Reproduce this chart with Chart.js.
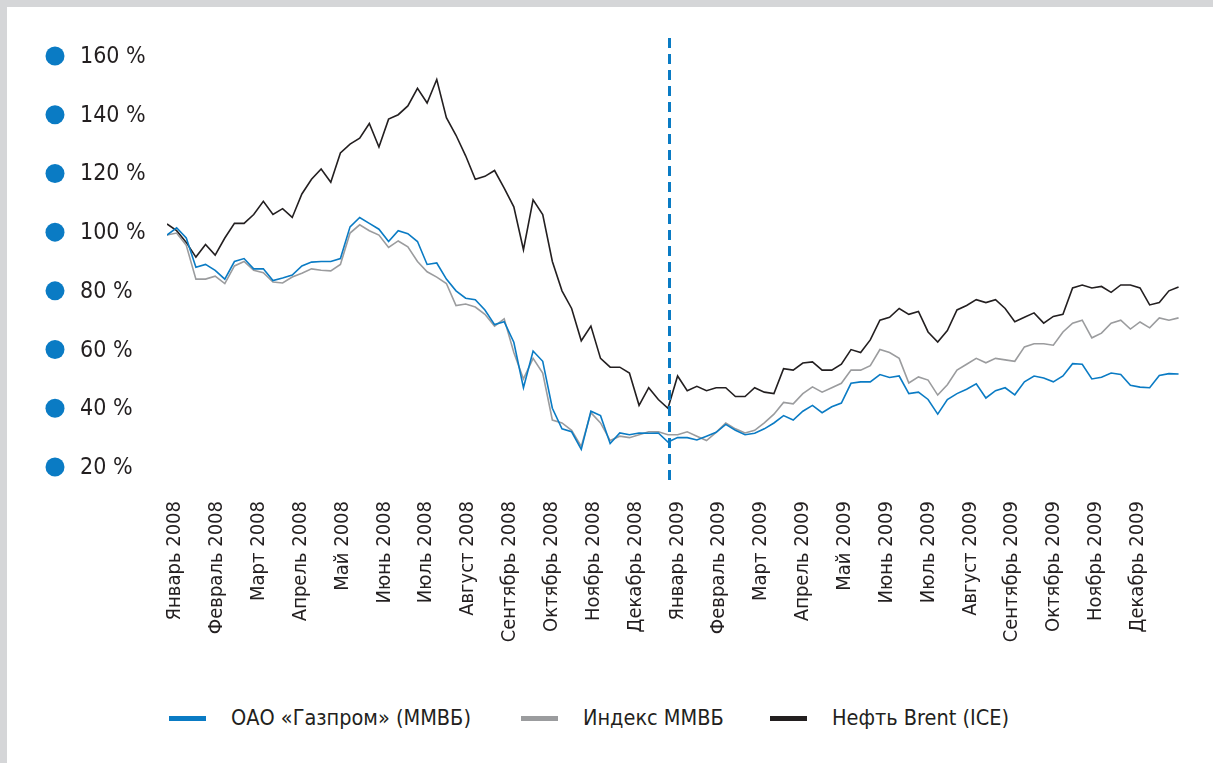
<!DOCTYPE html>
<html lang="ru">
<head>
<meta charset="utf-8">
<script src="https://cdn.jsdelivr.net/npm/chart.js@4.4.1/dist/chart.umd.min.js"></script>
<style>
    html, body { margin: 0; padding: 0; background: #d5d6d8; }
    body { width: 1213px; height: 763px; overflow: hidden; position: relative; }
    .panel { position: absolute; left: 7px; top: 7px; width: 1206px; height: 756px; background: #fff; }
    #chartBox { position: absolute; left: 0; top: 0; width: 1206px; height: 660px; }
    .legend { position: absolute; left: 0; top: 696px; width: 1206px; height: 30px;
        font-family: 'DejaVu Sans Condensed', 'Liberation Sans Narrow', sans-serif; font-size: 21.5px; color: #231f20; }
    .legend span.item { position: absolute; top: 0; line-height: 30px; white-space: nowrap; }
    .legend i { display: inline-block; width: 37px; height: 5px; vertical-align: middle; margin-right: 25px; position: relative; top: -1px; }
</style>
</head>
<body>
<div class="panel">
    <div id="chartBox"><canvas id="chart" width="1206" height="660"></canvas></div>
    <div class="legend" id="legend"></div>
</div>
<script>
//------data (weekly closes, % of 1 Jan 2008 level)
const months = ['Январь', 'Февраль', 'Март', 'Апрель', 'Май', 'Июнь', 'Июль', 'Август', 'Сентябрь', 'Октябрь', 'Ноябрь', 'Декабрь'];
const years = [2008, 2009];
const yTicks = [20, 40, 60, 80, 100, 120, 140, 160];
const splitMonth = 12; // январь 2009

const gazprom = [
    99, 101.5, 98, 88, 89, 87, 84, 90, 91, 87.5,
    87.5, 83.5, 84.4, 85.4, 88.5, 89.8, 90, 90, 91, 101.8,
    105, 103, 101, 96.8, 100.5, 99.5, 96.8, 89, 89.5, 84,
    80, 77.5, 77, 73.5, 68.5, 69.5, 62.5, 47, 59.5, 56,
    40, 33, 32, 26, 39, 37.5, 28, 31.6, 31, 31.6,
    31.5, 31.6, 28.5, 30, 30, 29.2, 30.5, 31.8, 34.5, 32.5,
    31, 31.5, 33, 35, 37.5, 36, 39, 41, 38.5, 40.5,
    41.8, 48.5, 49, 49, 51.5, 50.5, 51, 45, 45.5, 43,
    38, 43, 45, 46.5, 48.3, 43.5, 46, 47, 44.6, 49,
    51, 50.3, 49, 51, 55.2, 55, 50, 50.6, 52, 51.5,
    47.8, 47.2, 47, 51.2, 51.8, 51.7
];
const micex = [
    99, 99.7, 95.5, 84, 84, 85, 82.5, 88.5, 90, 87,
    86.2, 83, 82.7, 84.7, 86, 87.5, 87, 86.8, 89, 99.7,
    102.5, 100.5, 99, 94.8, 97, 95, 90, 86.5, 84.7, 82.5,
    75, 75.5, 74.5, 72, 68, 70.5, 59, 50, 57, 52,
    36, 35, 32.5, 27, 38.5, 35, 29, 30.5, 30, 31,
    32, 32, 31, 31, 32, 30.5, 29, 31.8, 35, 33,
    31.6, 32.5, 35, 38, 42, 41.5, 45, 47.3, 45.5, 47,
    48.5, 53, 53, 54.5, 60, 59, 57, 48.6, 50.7, 49.6,
    44.5, 48, 53, 55, 57, 55.5, 57, 56.5, 56, 60.9,
    62, 62, 61.5, 66, 69, 70, 64, 65.6, 69, 70,
    67, 69.4, 67.4, 70.8, 70, 70.8
];
const brent = [
    102.8, 100.5, 96.5, 91.5, 95.8, 92.2, 98, 103, 103, 106,
    110.5, 106, 108, 105, 113, 118, 121.5, 117, 127, 130,
    132, 137, 129, 138.5, 140, 143, 149, 144, 152, 139,
    133, 126, 118, 119, 121, 115, 108.6, 94, 111, 106,
    90, 80, 74, 63, 68, 57, 54, 54, 52, 41,
    47, 43, 40, 51, 46, 47.5, 46, 47, 47, 44,
    44, 47, 45.5, 45, 53.5, 53, 55.4, 55.8, 53, 53,
    55, 60, 59, 63.3, 70, 71, 74, 72, 73, 66,
    62.6, 66.5, 73.5, 75, 77, 76, 77, 74, 69.5, 71,
    72.5, 69, 71.3, 72, 81, 82, 81, 81.5, 79.5, 82,
    82, 81, 75.2, 76, 80, 81.3
];

const seriesNames = ['ОАО «Газпром» (ММВБ)', 'Индекс ММВБ', 'Нефть Brent (ICE)'];
const seriesColors = ['#0a7bc4', '#9b9c9e', '#231f20'];

const FONT = "'DejaVu Sans Condensed', 'Liberation Sans Narrow', sans-serif";
const WEEKS_PER_MONTH = 52.14 / 12;

// week number -> month position on the x axis
function toPoints(arr) {
    return arr.map((v, i) => ({ x: i / WEEKS_PER_MONTH, y: v }));
}

const datasets = [gazprom, micex, brent].map((arr, k) => ({
    label: seriesNames[k],
    data: toPoints(arr),
    borderColor: seriesColors[k],
    backgroundColor: seriesColors[k],
    borderWidth: 1.6,
    pointRadius: 0,
    tension: 0
}));

// y labels with round markers, plus the dashed year separator
const decor = {
    id: 'decor',
    afterDraw(chart) {
        const ctx = chart.ctx;
        const y = chart.scales.y;
        const x = chart.scales.x;
        ctx.save();
        ctx.font = '23px ' + FONT;
        ctx.textBaseline = 'middle';
        ctx.textAlign = 'left';
        yTicks.forEach(v => {
            const py = y.getPixelForValue(v);
            ctx.fillStyle = '#0a7bc4';
            ctx.beginPath();
            ctx.arc(48, py, 9.5, 0, Math.PI * 2);
            ctx.fill();
            ctx.fillStyle = '#231f20';
            ctx.fillText(v + ' %', 73, py + 1);
        });
        const px = Math.round(x.getPixelForValue(splitMonth)) + 0.5;
        ctx.strokeStyle = '#0a7bc4';
        ctx.lineWidth = 3;
        ctx.setLineDash([10, 6]);
        ctx.beginPath();
        ctx.moveTo(px, chart.chartArea.top - 18);
        ctx.lineTo(px, chart.chartArea.bottom + 14);
        ctx.stroke();
        ctx.restore();
    }
};

const config = {
    type: 'line',
    data: { datasets: datasets },
    options: {
        responsive: false,
        animation: false,
        layout: {
            padding: { top: 49, right: 33, bottom: 0, left: 160 }
        },
        plugins: {
            legend: { display: false },
            tooltip: { enabled: false }
        },
        scales: {
            x: {
                type: 'linear',
                min: 0,
                max: 24.2,
                grid: { display: false, drawTicks: false },
                border: { display: false },
                afterBuildTicks: scale => {
                    const t = [];
                    for (let m = 0; m < months.length * years.length; m++) t.push({ value: m });
                    scale.ticks = t;
                },
                afterFit: scale => { scale.height = 200; },
                ticks: {
                    autoSkip: false,
                    minRotation: 90,
                    maxRotation: 90,
                    padding: 34,
                    labelOffset: 8,
                    color: '#231f20',
                    font: { family: FONT, size: 20 },
                    callback: v => months[v % 12] + ' ' + years[Math.floor(v / 12)]
                }
            },
            y: {
                display: false,
                min: 20,
                max: 160
            }
        }
    },
    plugins: [decor]
};

const chart = new Chart(document.getElementById('chart'), config);

//------legend
const legend = document.getElementById('legend');
const legendX = [162, 514, 763];
datasets.forEach((d, k) => {
    const item = document.createElement('span');
    item.className = 'item';
    item.style.left = legendX[k] + 'px';
    item.innerHTML = `<i style="background:${d.borderColor}"></i>${d.label}`;
    legend.appendChild(item);
});
</script>
</body>
</html>
